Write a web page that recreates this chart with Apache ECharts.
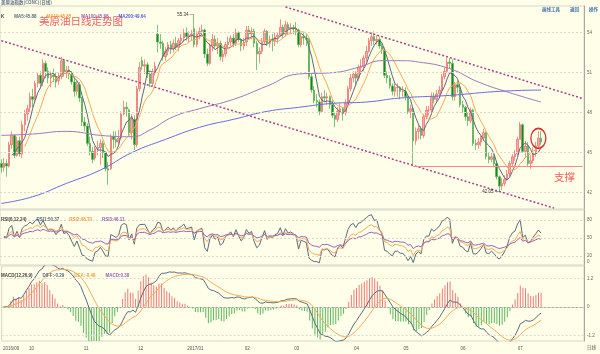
<!DOCTYPE html>
<html>
<head>
<meta charset="utf-8">
<script src="https://cdn.jsdelivr.net/npm/echarts@6/dist/echarts.min.js"></script>
<style>
html,body{margin:0;padding:0;background:#fefee9;}
#main{width:600px;height:354px;}
</style>
</head>
<body>
<div id="main"></div>
<script>
// trading days shown, month by month
var tradingDays = [
  ['2016-09', [16,19,20,21,22,23,26,27,28,29,30]],
  ['2016-10', [3,4,5,6,7,10,11,12,13,14,17,18,19,20,21,24,25,26,27,28,31]],
  ['2016-11', [1,2,3,4,7,8,9,10,11,14,15,16,17,18,21,22,23,25,28,29,30]],
  ['2016-12', [1,2,5,6,7,8,9,12,13,14,15,16,19,20,21,22,23,27,28,29,30]],
  ['2017-01', [3,4,5,6,9,10,11,12,13,17,18,19,20,23,24,25,26,27,30,31]],
  ['2017-02', [1,2,3,6,7,8,9,10,13,14,15,16,17,21,22,23,24,27,28]],
  ['2017-03', [1,2,3,6,7,8,9,10,13,14,15,16,17,20,21,22,23,24,27,28,29,30,31]],
  ['2017-04', [3,4,5,6,7,10,11,12,13,17,18,19,20,21,24,25,26,27,28]],
  ['2017-05', [1,2,3,4,5,8,9,10,11,12,15,16,17,18,19,22,23,24,25,26,30,31]],
  ['2017-06', [1,2,5,6,7,8,9,12,13,14,15,16,19,20,21,22,23,26,27,28,29,30]],
  ['2017-07', [3,5,6,7,10,11,12,13,14]]
];

// daily candles: [open, close, low, high]
var ohlc = [
  [44.2,43.9,43.5,44.5],[43.9,44.2,43.6,44.6],[44.2,44.0,43.2,44.5],[44.0,45.6,43.9,45.8],[45.6,46.3,45.3,46.6],
  [46.3,44.8,44.6,46.4],[44.8,45.9,44.7,46.2],[45.9,44.9,44.7,46.2],[44.9,47.1,44.6,47.4],[47.1,47.9,46.6,48.2],
  [47.9,48.3,47.4,48.6],
  [48.4,49.2,48.0,49.5],[49.2,49.0,48.4,49.8],[49.0,50.2,48.8,50.4],[50.2,50.8,49.9,51.0],[50.8,50.2,49.8,51.1],
  [50.3,51.7,50.0,52.0],[51.7,51.1,50.6,51.9],[51.1,50.6,50.2,51.4],[50.6,50.8,49.9,51.1],[50.8,50.7,50.3,51.3],
  [50.7,50.3,49.9,51.0],[50.4,50.7,50.1,51.0],[50.7,51.9,50.5,52.2],[51.9,51.0,50.7,52.0],[51.0,51.2,50.6,51.5],
  [51.2,50.9,50.5,51.5],[50.9,50.3,50.1,51.0],[50.3,49.6,49.2,50.6],[49.6,50.1,49.3,50.4],[50.1,49.1,48.8,50.3],
  [49.1,47.3,47.0,49.2],
  [47.3,47.0,46.6,47.7],[47.0,45.7,45.5,47.2],[45.7,45.1,44.8,46.2],[45.1,44.5,44.2,45.4],[44.6,45.3,44.4,45.5],
  [45.3,45.4,44.8,45.9],[45.4,45.7,44.1,46.0],[45.7,45.0,44.6,45.9],[45.0,43.8,43.6,45.1],[43.8,43.7,42.6,44.3],
  [43.8,46.2,43.7,46.4],[46.2,46.0,45.3,46.6],[46.0,45.8,45.4,46.6],[45.8,46.1,45.5,46.7],[46.1,47.9,46.0,48.1],
  [47.9,48.4,47.8,48.9],[48.4,48.3,47.7,48.8],[48.2,46.5,46.2,48.3],[46.5,47.5,46.0,47.9],[47.5,45.6,45.2,47.8],
  [45.6,49.8,45.4,50.0],
  [49.8,51.4,49.6,51.8],[51.9,51.5,51.2,52.2],[51.5,51.6,50.9,52.0],[51.6,50.9,50.6,51.8],[50.9,50.2,49.9,51.1],
  [50.2,51.0,50.0,51.3],[51.0,51.5,50.8,51.8],[53.9,53.3,52.5,54.6],[53.3,53.2,52.8,53.9],[53.2,52.2,51.9,53.4],
  [52.2,52.6,51.9,52.9],[52.6,53.1,52.3,53.3],[53.1,52.8,52.4,53.4],[52.8,53.2,52.5,53.5],[53.2,52.9,52.7,53.7],
  [52.9,53.4,52.6,53.6],[53.4,53.6,53.1,53.9],[53.6,54.0,53.3,54.3],[54.0,53.7,53.4,54.4],[53.7,53.8,53.3,54.1],
  [53.8,53.9,53.4,54.2],
  [54.3,53.1,52.9,55.34],[53.1,53.9,52.9,54.1],[53.9,54.1,53.5,54.4],[54.1,54.2,53.7,54.6],[54.2,52.4,52.1,54.3],
  [52.4,51.7,51.5,52.8],[51.7,53.0,51.6,53.2],[53.0,53.5,52.6,53.9],[53.5,53.0,52.8,53.8],[53.0,53.2,52.4,53.6],
  [53.2,52.2,51.9,53.4],[52.2,52.4,51.8,52.7],[52.4,53.1,52.2,53.3],[53.1,53.3,52.8,53.7],[53.3,53.6,53.0,53.8],
  [53.6,53.2,52.9,53.9],[53.2,54.0,53.0,54.3],[54.0,53.5,53.3,54.1],[53.5,53.0,52.6,53.6],[53.0,53.3,52.7,53.6],
  [53.3,54.2,53.0,54.5],[54.2,53.9,53.5,54.5],[53.9,54.1,53.5,54.4],[54.1,53.2,52.9,54.3],[53.2,52.4,51.2,53.4],
  [52.4,52.6,51.7,52.9],[52.6,53.3,52.4,53.6],[53.3,54.1,53.1,54.3],[54.1,53.2,53.0,54.2],[53.2,53.5,52.9,53.8],
  [53.5,53.4,52.6,53.9],[53.4,53.7,53.0,54.0],[53.7,53.8,53.2,54.0],[53.8,54.4,53.7,55.0],[54.4,53.9,53.6,54.6],
  [53.9,54.6,53.7,54.9],[54.6,54.3,53.9,54.8],[54.3,54.4,53.9,54.7],[54.4,54.3,53.9,54.6],
  [54.3,54.2,53.8,54.8],[54.2,53.1,52.9,54.3],[53.1,53.7,52.9,53.9],[53.7,53.6,53.1,54.0],[53.6,53.5,53.0,53.9],
  [53.5,50.7,50.5,53.6],[50.7,49.7,49.5,50.9],[49.7,48.9,48.7,50.0],[48.9,48.8,48.4,49.4],[48.8,48.1,47.8,49.0],
  [48.1,49.2,48.0,49.5],[49.2,49.1,48.8,49.7],[49.1,49.2,48.6,49.5],[49.2,48.6,48.3,49.3],[48.6,47.8,47.6,49.0],
  [47.8,47.5,46.9,48.0],[47.5,48.1,47.3,48.4],[48.1,48.3,47.8,48.7],[48.3,48.0,47.4,48.4],[48.0,48.7,47.8,49.0],
  [48.7,49.8,48.6,50.0],[49.8,50.6,49.6,50.9],[50.6,50.9,50.3,51.1],
  [50.9,50.6,50.1,51.1],[50.6,51.4,50.4,51.6],[51.4,51.5,50.9,52.0],[51.5,52.1,51.1,52.3],[52.1,52.6,51.8,53.0],
  [52.6,53.4,52.5,53.6],[53.4,53.7,53.0,54.0],[53.7,53.4,53.1,54.1],[53.4,53.5,53.1,53.8],[53.5,53.0,52.8,53.7],
  [53.0,52.7,52.4,53.2],[52.7,50.8,50.6,52.9],[50.8,50.6,50.2,51.1],[50.6,50.0,49.8,50.8],[50.0,49.6,49.3,50.2],
  [49.6,49.9,49.2,50.2],[49.9,49.9,49.2,50.2],[49.9,49.6,49.0,50.0],[49.6,49.6,49.2,50.0],
  [49.6,49.2,48.9,49.9],[49.2,48.1,47.9,49.3],[48.1,48.3,47.6,48.6],[48.3,45.9,44.0,48.4],[45.9,46.6,45.6,46.9],
  [46.6,46.8,46.0,47.1],[46.8,46.3,46.0,47.0],[46.3,47.7,46.1,47.9],[47.7,48.2,47.5,48.5],[48.2,48.2,47.8,48.5],
  [48.2,49.2,48.0,49.5],[49.2,49.0,48.7,49.5],[49.0,49.4,48.8,49.7],[49.4,49.7,49.1,50.0],[49.7,50.7,49.6,50.9],
  [50.7,51.1,50.5,51.4],[51.1,51.8,51.0,52.1],[51.8,51.7,51.3,52.1],[51.7,49.2,48.9,52.0],[49.2,50.1,48.9,50.3],
  [50.1,49.9,49.5,50.4],[49.9,48.6,48.4,50.0],
  [48.6,48.4,48.0,48.9],[48.4,47.7,47.4,48.5],[47.7,47.4,47.0,48.0],[47.4,48.2,47.2,48.4],[48.2,45.7,45.5,48.3],
  [45.7,45.6,45.2,46.0],[45.6,45.8,45.3,46.1],[45.8,46.1,45.5,46.3],[46.1,46.5,45.9,46.8],[46.5,44.7,44.5,46.6],
  [44.7,44.5,44.2,45.0],[44.5,44.7,44.3,45.0],[44.7,44.2,43.9,44.9],[44.2,43.2,43.0,44.4],[43.2,42.5,42.05,43.3],
  [42.5,42.7,42.2,43.1],[42.7,43.0,42.5,43.3],[43.0,43.4,42.9,43.7],[43.4,44.2,43.2,44.4],[44.2,44.7,43.9,44.9],
  [44.7,44.9,44.4,45.2],[44.9,46.0,44.8,46.2],
  [46.0,47.1,46.0,47.3],[47.1,45.1,45.0,47.2],[45.1,45.5,44.6,45.9],[45.5,44.2,44.0,45.8],[44.2,44.4,43.8,44.8],
  [44.4,45.0,44.2,45.4],[45.0,45.5,44.7,45.8],[45.5,46.1,45.3,46.6],[46.1,45.8,45.6,46.6]
];

// long moving averages: [day index, value]
var ma100Pts = [[0,46.3],[12,46.4],[25,46.6],[38,46.3],[50,46.2],[57,46.7],[66,47.7],[76,48.3],[89,49.0],
  [102,50.0],[114,50.9],[127,51.0],[137,51.4],[146,51.9],[153,51.9],[160,51.8],[172,51.3],[183,50.3],[195,49.5],[207,48.8]];
var ma200Pts = [[0,41.2],[12,41.7],[25,42.7],[38,43.7],[50,45.0],[63,46.0],[76,46.9],[89,47.5],[102,48.1],
  [114,48.4],[127,48.7],[140,48.8],[153,49.1],[172,49.3],[191,49.6],[207,49.7]];

// hand drawn lines: [day index, price]
var channelLow = [[0,53.4],[212,40.85]];
var channelHigh = [[109,55.93],[223,49.06]];
var supportLine = [[158,44.0],[223,44.0]];
var circleMark = [206,46.08];
var supportText = [216,43.2];

var priceTicks = [42,45,48,51,54];
var rsiTicks = [20,50,80];
var macdTicks = [-1.2,0,1.2];
var blankSlots = 16;

// ---- build categories
var dates = [];
tradingDays.forEach(function (m) {
  m[1].forEach(function (d) { dates.push(m[0] + '-' + (d < 10 ? '0' + d : d)); });
});
var N = dates.length;
var cats = dates.slice();
for (var i = 0; i < blankSlots; i++) cats.push('');

var closes = ohlc.map(function (k) { return k[1]; });

function ma(n) {
  return closes.map(function (c, i) {
    if (i < n - 1) return null;
    var s = 0;
    for (var j = i - n + 1; j <= i; j++) s += closes[j];
    return +(s / n).toFixed(3);
  });
}
function rsi(n) {
  var out = [null], su, sa;
  var a0 = 0;
  for (var i = 1; i <= n && i < N; i++) a0 += Math.abs(closes[i] - closes[i - 1]);
  sa = a0 / n; su = sa / 2;
  for (var i = 1; i < N; i++) {
    var d = closes[i] - closes[i - 1];
    su = (Math.max(d, 0) + (n - 1) * su) / n;
    sa = (Math.abs(d) + (n - 1) * sa) / n;
    out.push(sa === 0 ? 50 : +(su / sa * 100).toFixed(2));
  }
  return out;
}
var e12 = closes[0], e26 = closes[0], dea = 0;
var difArr = [], deaArr = [], barArr = [];
closes.forEach(function (c) {
  e12 = (2 * c + 11 * e12) / 13;
  e26 = (2 * c + 25 * e26) / 27;
  var dif = e12 - e26;
  dea = (2 * dif + 8 * dea) / 10;
  difArr.push(+dif.toFixed(3));
  deaArr.push(+dea.toFixed(3));
  barArr.push(+(2 * (dif - dea)).toFixed(3));
});

function gridMarks(vals) {
  return {
    silent: true, symbol: ['none', 'none'], label: {show: false},
    lineStyle: {color: '#d9d9cc', type: [2, 2], width: 1},
    data: vals.map(function (v) { return {yAxis: v}; })
  };
}
function seg(pts, style) {
  return [{coord: pts[0], lineStyle: style}, {coord: pts[1]}];
}

var FONT = 'Liberation Sans';
var dotted = {color: '#a5438f', type: [2, 2], width: 1.5};

var xBase = {
  type: 'category', data: cats, boundaryGap: true,
  axisTick: {show: false}, splitLine: {show: false},
  axisLine: {show: false}, axisLabel: {show: false}
};

option = {
  backgroundColor: '#fefee9',
  animation: false,
  textStyle: {fontFamily: FONT},
  title: [
    {text: '美原油日线走势图', left: 39, top: 16, padding: 0,
      textStyle: {fontSize: 10.5, color: '#f06262', fontWeight: 'normal', fontFamily: 'Noto Sans CJK SC'}},
    {text: '{k|美原油指数(CONC)(日线)}', left: 1, top: 0, padding: 0,
      textStyle: {rich: {k: {fontSize: 4.5, color: '#667788', fontFamily: 'Noto Sans CJK SC'}}}},
    {text: '{k|K}  {a|MA5:45.88}  {b|MA10:45.85}  {c|MA100:45.58}  {d|MA200:49.64}', left: 1, top: 8, padding: 0,
      textStyle: {rich: {
        k: {fontSize: 4.5, color: '#444'}, a: {fontSize: 4.5, color: '#5b6b7c'}, b: {fontSize: 4.5, color: '#f0a040'},
        c: {fontSize: 4.5, color: '#9b62b8'}, d: {fontSize: 4.5, color: '#5a5ae0'}}}},
    {text: '{k|RSI(6,12,24)}  {a|RSI1:50.37}  {b|RSI2:48.70}  {c|RSI3:46.11}', left: 1, top: 211, padding: 0,
      textStyle: {rich: {
        k: {fontSize: 4.5, color: '#444'}, a: {fontSize: 4.5, color: '#5b6b7c'}, b: {fontSize: 4.5, color: '#f0a040'},
        c: {fontSize: 4.5, color: '#9b62b8'}}}},
    {text: '{k|MACD(12,26,9)}  {a|DIFF:-0.29}  {b|DEA:-0.48}  {c|MACD:0.38}', left: 1, top: 267, padding: 0,
      textStyle: {rich: {
        k: {fontSize: 4.5, color: '#444'}, a: {fontSize: 4.5, color: '#5b6b7c'}, b: {fontSize: 4.5, color: '#f0a040'},
        c: {fontSize: 4.5, color: '#9b62b8'}}}},
    {text: '{a|画线工具}  {a|返回}  {a|操作}', right: 2, top: 0, padding: 0,
      textStyle: {rich: {a: {fontSize: 4.5, color: '#3d6fa8', fontFamily: 'Noto Sans CJK SC'}}}},
    {text: '0', left: 587, top: 259, padding: 0, textStyle: {fontSize: 4.5, color: '#666', fontWeight: 'normal'}},
    {text: '日线', left: 587, top: 345, padding: 0,
      textStyle: {fontSize: 4.5, color: '#555', fontWeight: 'normal', fontFamily: 'Noto Sans CJK SC'}}
  ],
  grid: [
    {left: 0, width: 584, top: 6, height: 203, show: true, borderColor: '#d6d6c8', borderWidth: 1, backgroundColor: 'transparent'},
    {left: 0, width: 584, top: 210, height: 55, show: true, borderColor: '#d6d6c8', borderWidth: 1, backgroundColor: 'transparent'},
    {left: 0, width: 584, top: 266, height: 75, show: true, borderColor: '#d6d6c8', borderWidth: 1, backgroundColor: 'transparent'}
  ],
  xAxis: [
    Object.assign({gridIndex: 0}, xBase),
    Object.assign({gridIndex: 1}, xBase),
    Object.assign({}, xBase, {
      gridIndex: 2,
      axisLine: {show: true, lineStyle: {color: '#a8a8a0'}},
      axisLabel: {
        show: true, fontSize: 4.5, color: '#555', margin: 5, alignMinLabel: 'left',
        interval: function (i) {
          return i < N && (i === 0 || dates[i].slice(0, 7) !== dates[i - 1].slice(0, 7));
        },
        formatter: function (v) {
          if (!v) return '';
          var m = v.slice(5, 7);
          return (m === '09' || m === '01') ? v.slice(0, 4) + '/' + m : m;
        }
      }
    })
  ],
  yAxis: [
    {gridIndex: 0, position: 'right', min: 40.78, max: 56.0, scale: true,
      axisLine: {show: true, lineStyle: {color: '#a8a8a0'}}, axisTick: {show: false}, splitLine: {show: false},
      axisLabel: {customValues: priceTicks, fontSize: 4.5, color: '#666', margin: 3}},
    {gridIndex: 1, position: 'right', min: 5, max: 96.7,
      axisLine: {show: true, lineStyle: {color: '#a8a8a0'}}, axisTick: {show: false}, splitLine: {show: false},
      axisLabel: {customValues: rsiTicks, fontSize: 4.5, color: '#666', margin: 3}},
    {gridIndex: 2, position: 'right', min: -1.43, max: 1.73,
      axisLine: {show: true, lineStyle: {color: '#a8a8a0'}}, axisTick: {show: false}, splitLine: {show: false},
      axisLabel: {customValues: macdTicks, fontSize: 4.5, color: '#666', margin: 3,
        formatter: function (v) { return v === 0 ? '0' : v.toFixed(1); }}}
  ],
  series: [
    {
      type: 'candlestick', xAxisIndex: 0, yAxisIndex: 0, data: ohlc, barWidth: 2,
      itemStyle: {color: '#f7a8a8', color0: '#148a14', borderColor: '#ef7474', borderColor0: '#62b262', borderWidth: 0.8},
      markLine: (function () {
        var m = gridMarks(priceTicks);
        m.data = m.data.concat([
          seg(channelLow, dotted),
          seg(channelHigh, dotted),
          seg(supportLine, {color: '#f28a8a', type: 'solid', width: 1})
        ]);
        return m;
      })(),
      markPoint: {
        silent: true,
        data: [
          {type: 'max', valueDim: 'highest', symbolSize: 0,
            label: {show: true, position: 'left', distance: 0, fontSize: 4.5, color: '#333',
              formatter: function (p) { return p.value.toFixed(2) + ' —'; }}},
          {type: 'min', valueDim: 'lowest', symbolSize: 0,
            label: {show: true, position: 'left', distance: 0, fontSize: 4.5, color: '#333',
              formatter: function (p) { return p.value.toFixed(2) + ' —'; }}},
          {coord: circleMark, symbol: 'circle', symbolSize: [15, 20],
            itemStyle: {color: 'rgba(0,0,0,0)', borderColor: '#e32b2b', borderWidth: 1.5}, label: {show: false}},
          {coord: supportText, symbolSize: 0,
            label: {show: true, position: 'inside', formatter: '支撑', fontSize: 10.5, color: '#f06060',
              fontFamily: 'Noto Sans CJK SC'}}
        ]
      }
    },
    {type: 'line', xAxisIndex: 0, yAxisIndex: 0, data: ma(5), showSymbol: false, lineStyle: {width: 1, color: '#5b6b7c'}},
    {type: 'line', xAxisIndex: 0, yAxisIndex: 0, data: ma(10), showSymbol: false, lineStyle: {width: 1, color: '#f5aa55'}},
    {type: 'line', xAxisIndex: 0, yAxisIndex: 0, data: ma100Pts, smooth: true, showSymbol: false, lineStyle: {width: 1, color: '#a078c0'}},
    {type: 'line', xAxisIndex: 0, yAxisIndex: 0, data: ma200Pts, smooth: true, showSymbol: false, lineStyle: {width: 1, color: '#6a6ae6'}},

    {type: 'line', xAxisIndex: 1, yAxisIndex: 1, data: rsi(6), showSymbol: false, lineStyle: {width: 1, color: '#5b6b7c'},
      markLine: gridMarks(rsiTicks)},
    {type: 'line', xAxisIndex: 1, yAxisIndex: 1, data: rsi(12), showSymbol: false, lineStyle: {width: 1, color: '#f5aa55'}},
    {type: 'line', xAxisIndex: 1, yAxisIndex: 1, data: rsi(24), showSymbol: false, lineStyle: {width: 1, color: '#9b62b8'}},

    {type: 'bar', xAxisIndex: 2, yAxisIndex: 2, data: barArr, barWidth: 1,
      itemStyle: {color: function (p) { return p.value >= 0 ? '#f07a7a' : '#5cb85c'; }},
      markLine: gridMarks(macdTicks)},
    {type: 'line', xAxisIndex: 2, yAxisIndex: 2, data: difArr, showSymbol: false, lineStyle: {width: 1, color: '#5b6b7c'}},
    {type: 'line', xAxisIndex: 2, yAxisIndex: 2, data: deaArr, showSymbol: false, lineStyle: {width: 1, color: '#f5aa55'}}
  ]
};

var myChart = echarts.init(document.getElementById('main'));
myChart.setOption(option);
</script>
</body>
</html>
